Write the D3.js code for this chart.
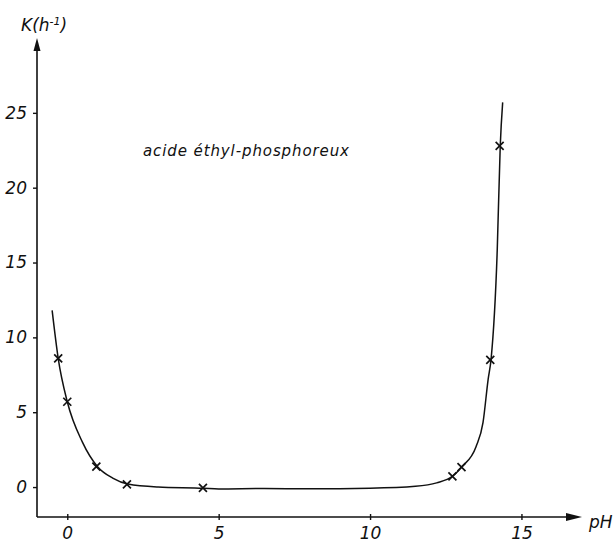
<!DOCTYPE html>
<html>
<head>
<meta charset="utf-8">
<script src="https://cdn.jsdelivr.net/npm/d3@7"></script>
<style>
  html, body { margin: 0; padding: 0; background: #fff; }
  svg { display: block; }
  text { font-family: 'DejaVu Sans', sans-serif; font-style: italic; fill: #111; }
</style>
</head>
<body>
<div id="chart"></div>
<script>
// measured points (pH, K)
var pointPH = [-0.3, 0, 0.96, 1.97, 4.48, 12.72, 13.02, 13.97, 14.28]
var pointK = [8.6, 5.7, 1.36, 0.18, -0.06, 0.72, 1.33, 8.5, 22.8]

// hand drawn fitted curve
var curvePH = [-0.5, -0.3, 0, 0.5, 1.0, 1.5, 2.0, 3.0, 4.5, 5.0, 6.5, 8.0, 10.0, 11.5, 12.2, 12.72, 13.02, 13.5, 13.73, 13.9, 14.0, 14.2, 14.3, 14.38]
var curveK = [11.8, 8.6, 5.7, 3.0, 1.36, 0.6, 0.2, 0.0, -0.08, -0.13, -0.1, -0.12, -0.08, 0.05, 0.28, 0.72, 1.33, 2.7, 4.3, 7.2, 8.6, 15.8, 22.8, 25.7]

var xTicks = [0, 5, 10, 15]
var yTicks = [0, 5, 10, 15, 20, 25]

var width = 615
var height = 548

var svg = d3.select('#chart').append('svg')
  .attr('width', width)
  .attr('height', height)

var x = d3.scaleLinear().domain([-1, 17]).range([37, 582])
var y = d3.scaleLinear().domain([-2, 30]).range([517, 38])

// axes lines
svg.append('line')
  .attr('x1', x(-1)).attr('y1', y(-2))
  .attr('x2', x(-1)).attr('y2', y(29.3))
  .attr('stroke', '#111').attr('stroke-width', 1.6)
svg.append('line')
  .attr('x1', x(-1)).attr('y1', y(-2))
  .attr('x2', x(16.6)).attr('y2', y(-2))
  .attr('stroke', '#111').attr('stroke-width', 1.6)

// arrow heads
var ax = x(-1), ay = y(30)
svg.append('path')
  .attr('d', 'M' + ax + ',' + ay + 'L' + (ax - 3.5) + ',' + (ay + 13) + 'L' + (ax + 3.5) + ',' + (ay + 13) + 'Z')
  .attr('fill', '#111')
var bx = x(17), by = y(-2)
svg.append('path')
  .attr('d', 'M' + bx + ',' + by + 'L' + (bx - 16) + ',' + (by - 4) + 'L' + (bx - 16) + ',' + (by + 4) + 'Z')
  .attr('fill', '#111')

// ticks and labels
var yAxis = svg.append('g')
  .attr('transform', 'translate(' + x(-1) + ',0)')
  .call(d3.axisLeft(y).tickValues(yTicks).tickSizeInner(4).tickSizeOuter(0).tickPadding(6))
yAxis.select('.domain').remove()
yAxis.selectAll('line').attr('stroke', '#111').attr('stroke-width', 1.4)
yAxis.selectAll('text')
  .attr('font-size', 17)
  .attr('font-family', null)
  .attr('fill', '#111')

var xAxis = svg.append('g')
  .attr('transform', 'translate(0,' + y(-2) + ')')
  .call(d3.axisBottom(x).tickValues(xTicks).tickSizeInner(3).tickSizeOuter(0).tickPadding(7))
xAxis.select('.domain').remove()
xAxis.selectAll('line').attr('stroke', '#111').attr('stroke-width', 1.4).attr('y1', -3)
xAxis.selectAll('text')
  .attr('font-size', 17)
  .attr('font-family', null)
  .attr('fill', '#111')

// axis titles
var kLabel = svg.append('text')
  .attr('x', 21).attr('y', 31)
  .attr('font-size', 17)
kLabel.append('tspan').text('K(h')
kLabel.append('tspan').attr('dy', -6).attr('font-size', 11).text('-1')
kLabel.append('tspan').attr('dy', 6).text(')')

svg.append('text')
  .attr('x', 589).attr('y', 528)
  .attr('font-size', 17)
  .text('pH')

// curve
var curveData = curvePH.map(function (d, i) { return [d, curveK[i]] })
svg.append('path')
  .datum(curveData)
  .attr('fill', 'none')
  .attr('stroke', '#111')
  .attr('stroke-width', 1.5)
  .attr('d', d3.line()
    .x(function (d) { return x(d[0]) })
    .y(function (d) { return y(d[1]) })
    .curve(d3.curveMonotoneX))

// markers
var pts = pointPH.map(function (d, i) { return [d, pointK[i]] })
svg.append('g').selectAll('path')
  .data(pts)
  .enter().append('path')
  .attr('transform', function (d) { return 'translate(' + x(d[0]) + ',' + y(d[1]) + ')' })
  .attr('d', 'M-4,-4L4,4M-4,4L4,-4')
  .attr('stroke', '#111')
  .attr('stroke-width', 1.7)
  .attr('fill', 'none')

// annotation
svg.append('text')
  .attr('x', 143).attr('y', 156)
  .attr('font-size', 15)
  .attr('textLength', 206)
  .text('acide éthyl-phosphoreux')
</script>
</body>
</html>
